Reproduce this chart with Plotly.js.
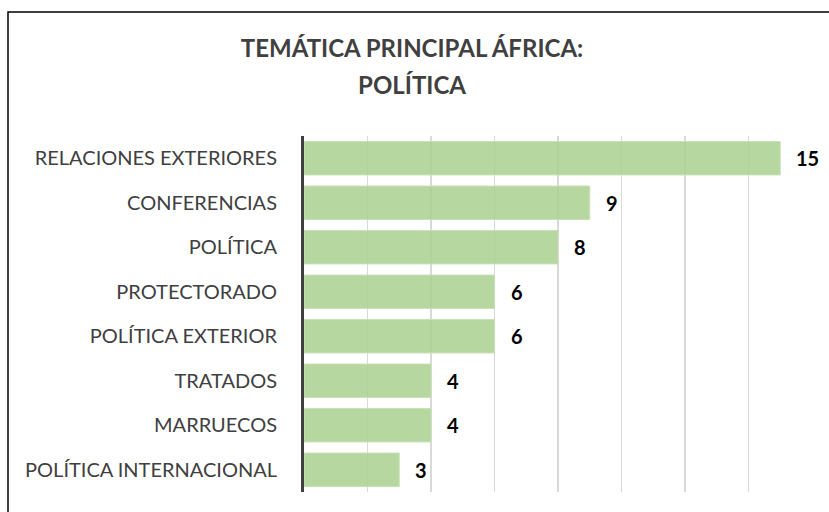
<!DOCTYPE html>
<html>
<head>
<meta charset="utf-8">
<script src="https://cdn.plot.ly/plotly-3.0.1.min.js"></script>
<style>
html,body{margin:0;padding:0;background:#fff;}
#chart{width:829px;height:512px;}
</style>
</head>
<body>
<div id="chart"></div>
<script>
const categories = ["RELACIONES EXTERIORES","CONFERENCIAS","POLÍTICA","PROTECTORADO","POLÍTICA EXTERIOR","TRATADOS","MARRUECOS","POLÍTICA INTERNACIONAL"];
const values = [15, 9, 8, 6, 6, 4, 4, 3];
const titleLines = ["TEMÁTICA PRINCIPAL ÁFRICA:", "POLÍTICA"];

const font = "Lato, 'Open Sans', sans-serif";

const trace = {
  type: 'bar',
  orientation: 'h',
  x: values,
  y: categories,
  marker: {color: 'rgba(169,208,142,0.85)', line: {color: '#c8e1b6', width: 1}},
  hoverinfo: 'skip'
};

const annotations = values.map((v, i) => ({
  x: v, y: categories[i], xref: 'x', yref: 'y',
  text: '<b>' + v + '</b>', showarrow: false,
  xanchor: 'left', xshift: 14,
  font: {family: font, size: 20, color: '#000'}
}));

const titleHtml = titleLines.map(t => '<span style="font-size:24px"><b>' + t + '</b></span>').join('<br>');

const layout = {
  width: 829, height: 512,
  margin: {l: 304, r: 17, t: 136, b: 20, pad: 0},
  paper_bgcolor: '#fff', plot_bgcolor: '#fff',
  showlegend: false,
  bargap: 0.25,
  title: {text: titleHtml, x: 0.497, xref: 'container', xanchor: 'center',
          y: 0.888, yref: 'container', yanchor: 'middle',
          font: {family: font, size: 28.5, color: '#404040'}},
  xaxis: {range: [0, 16], dtick: 2, tick0: 0, showticklabels: false, ticks: '',
          showgrid: true, gridcolor: '#d9d9d9', gridwidth: 1.5, zeroline: false, showline: false, fixedrange: true},
  yaxis: {autorange: 'reversed', type: 'category', showline: true, linecolor: '#404040', linewidth: 3,
          ticks: '', ticklabelstandoff: 20, showgrid: false, zeroline: false,
          tickfont: {family: font, size: 20, color: '#404040'}},
  annotations: annotations,
  shapes: [{type: 'rect', xref: 'paper', yref: 'paper',
            x0: (8 - 304) / 508, x1: (840 - 304) / 508,
            y0: (492 - 525) / 356, y1: (492 - 12) / 356,
            line: {color: '#000', width: 1.5}, fillcolor: 'rgba(0,0,0,0)', layer: 'below'}]
};

Plotly.newPlot('chart', [trace], layout, {staticPlot: true, displayModeBar: false});
</script>
</body>
</html>
